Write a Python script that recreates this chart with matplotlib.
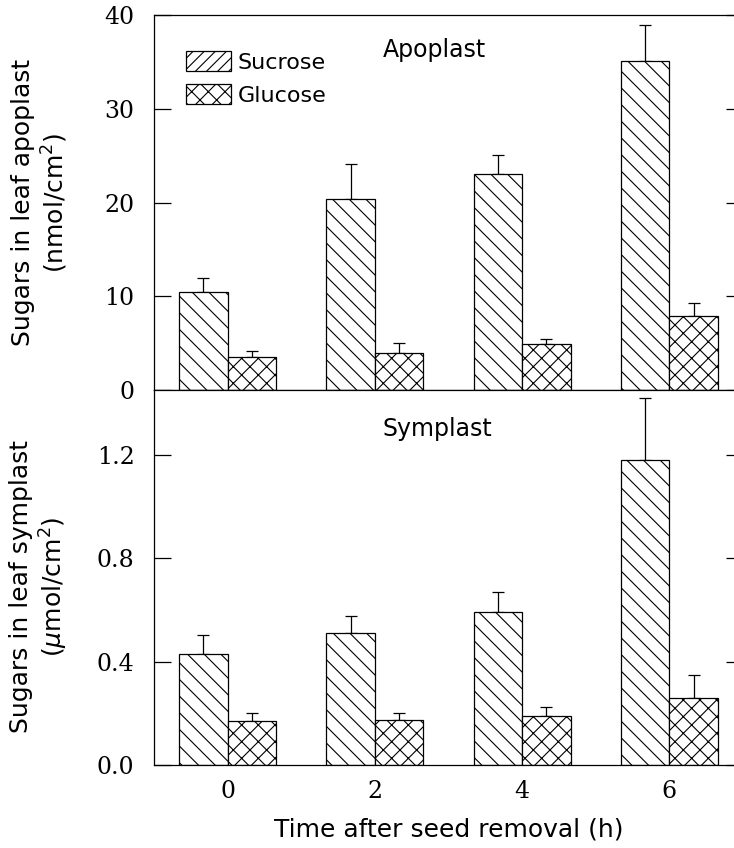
import numpy as np
import matplotlib as mpl
import matplotlib.patches as patches
from matplotlib import pyplot as plt

mpl.rcParams['hatch.linewidth'] = 0.8

# time after seed removal (h)
hours = [0, 2, 4, 6]

# apoplast, nmol/cm2
apo_sucrose = [10.5, 20.4, 23.0, 35.1]
apo_sucrose_err = [1.4, 3.7, 2.1, 3.8]
apo_glucose = [3.5, 4.0, 4.9, 7.9]
apo_glucose_err = [0.7, 1.0, 0.5, 1.4]

# symplast, umol/cm2
sym_sucrose = [0.43, 0.51, 0.59, 1.18]
sym_sucrose_err = [0.074, 0.066, 0.078, 0.24]
sym_glucose = [0.171, 0.174, 0.189, 0.258]
sym_glucose_err = [0.029, 0.028, 0.036, 0.091]

SERIF = 'DejaVu Serif'
SANS = 'DejaVu Sans'
W = 0.66

fig = plt.figure(figsize=(7.34, 8.48), dpi=100)
ax_top = fig.add_axes([154 / 734, 1 - 390 / 848, 589 / 734, 375 / 848])
ax_bot = fig.add_axes([154 / 734, 1 - 765 / 848, 589 / 734, 375 / 848])


def draw_panel(ax, suc, suc_err, glu, glu_err):
    x = np.array(hours)
    ax.bar(x - W / 2, suc, W, color='white', edgecolor='black',
           hatch='\\\\', lw=0.9, zorder=2)
    ax.bar(x + W / 2, glu, W, color='white', edgecolor='black',
           hatch='xx', lw=0.9, zorder=2)
    ax.errorbar(x - W / 2, suc, yerr=[np.zeros(4), suc_err], fmt='none',
                ecolor='black', elinewidth=0.9, capsize=4.3, capthick=0.9,
                zorder=1)
    ax.errorbar(x + W / 2, glu, yerr=[np.zeros(4), glu_err], fmt='none',
                ecolor='black', elinewidth=0.9, capsize=4.3, capthick=0.9,
                zorder=1)
    ax.set_xlim(-1, 7)
    for sp in ax.spines.values():
        sp.set_linewidth(0.9)
    ax.tick_params(axis='y', direction='in', length=12, width=0.9,
                   right=True, labelsize=17, pad=14)
    ax.tick_params(axis='x', length=0, labelsize=17, pad=11)


draw_panel(ax_top, apo_sucrose, apo_sucrose_err, apo_glucose, apo_glucose_err)
ax_top.set_ylim(0, 40)
ax_top.set_yticks([0, 10, 20, 30, 40])
ax_top.set_yticklabels(['0', '10', '20', '30', '40'], family=SERIF)
ax_top.set_xticks(hours)
ax_top.set_xticklabels([])
ax_top.text(2.11, 36.3, 'Apoplast', ha='left', va='center', family=SANS,
            fontsize=17)
ax_top.set_ylabel('Sugars in leaf apoplast\n(nmol/cm$^2$)', family=SANS,
                  fontsize=18, linespacing=1.2)
ax_top.yaxis.set_label_coords(-0.143, 0.5)

leg_handles = [patches.Patch(facecolor='white', edgecolor='black', hatch='///',
                             lw=0.9, label='Sucrose'),
               patches.Patch(facecolor='white', edgecolor='black', hatch='xx',
                             lw=0.9, label='Glucose')]
ax_top.legend(handles=leg_handles, loc='upper left',
              bbox_to_anchor=(0.04, 0.928), frameon=False, borderaxespad=0,
              prop={'family': SANS, 'size': 16}, handlelength=2.0,
              handleheight=1.05, handletextpad=0.3, labelspacing=0.5)

draw_panel(ax_bot, sym_sucrose, sym_sucrose_err, sym_glucose, sym_glucose_err)
ax_bot.set_ylim(0, 1.45)
ax_bot.set_yticks([0.0, 0.4, 0.8, 1.2])
ax_bot.set_yticklabels(['0.0', '0.4', '0.8', '1.2'], family=SERIF)
ax_bot.set_xticks(hours)
ax_bot.set_xticklabels([str(h) for h in hours], family=SERIF)
ax_bot.text(2.11, 1.30, 'Symplast', ha='left', va='center', family=SANS,
            fontsize=17)
ax_bot.set_ylabel('Sugars in leaf symplast\n($\\mu$mol/cm$^2$)', family=SANS,
                  fontsize=18, linespacing=1.2)
ax_bot.yaxis.set_label_coords(-0.143, 0.475)
ax_bot.set_xlabel('Time after seed removal (h)', family=SANS, fontsize=18,
                  labelpad=10)

fig.savefig('out.png', dpi=100)
